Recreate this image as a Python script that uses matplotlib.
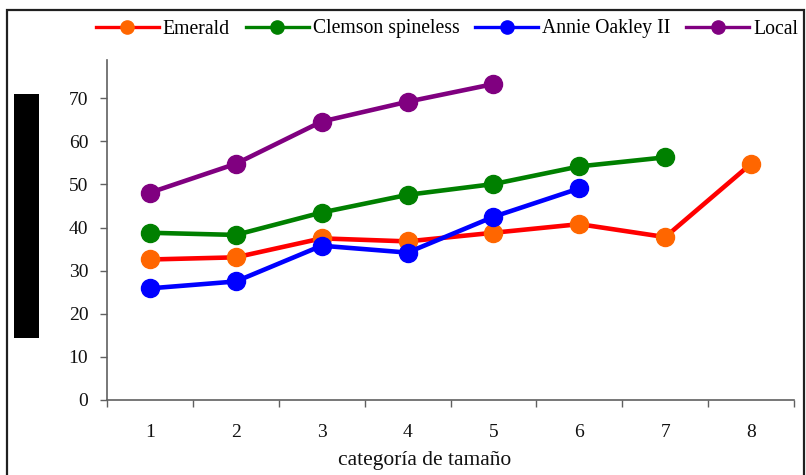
import matplotlib
matplotlib.use("Agg")
import matplotlib.pyplot as plt
from matplotlib.lines import Line2D
from matplotlib.patches import Rectangle

plt.rcParams['font.family'] = ['Liberation Serif', 'DejaVu Serif']

categories = [1, 2, 3, 4, 5, 6, 7, 8]
series_names = ["Emerald", "Clemson spineless", "Annie Oakley II", "Local"]
emerald = [32.6, 33.1, 37.5, 36.8, 38.8, 40.8, 37.8, 54.8]
clemson = [38.8, 38.3, 43.5, 47.6, 50.1, 54.2, 56.3]
annie = [25.9, 27.5, 35.8, 34.2, 42.5, 49.1]
local = [48.1, 54.8, 64.6, 69.2, 73.3]
yticks = [0, 10, 20, 30, 40, 50, 60, 70]
xlabel = "categoría de tamaño"

series = [emerald, clemson, annie, local]
line_colors = ["#FF0000", "#008000", "#0000FF", "#800080"]
marker_colors = ["#FF6600", "#008000", "#0000FF", "#800080"]

W, H = 806, 475
fig = plt.figure(figsize=(W / 100, H / 100), dpi=100)

# figure border
fig.patches.append(Rectangle((7 / W, -0.05), (804 - 7) / W, (475 - 10) / H + 0.05,
                             transform=fig.transFigure, fill=False,
                             edgecolor="#202020", linewidth=1.6, zorder=0))
# black block on the left
fig.patches.append(Rectangle((14 / W, 1 - 338 / H), 25 / W, (338 - 94) / H,
                             transform=fig.transFigure, facecolor="black",
                             edgecolor="none", zorder=1))

ax = fig.add_axes([107 / W, 1 - 400 / H, (794 - 107) / W, (400 - 59.5) / H])
ax.set_xlim(0.5, 8.5)
ax.set_ylim(0, 79)

for vals, lc, mc in zip(series, line_colors, marker_colors):
    xs = categories[:len(vals)]
    ax.plot(xs, vals, color=lc, linewidth=3.3, marker="o", markersize=13,
            markerfacecolor=mc, markeredgecolor=mc, solid_capstyle="round", zorder=3)

for s in ["top", "right"]:
    ax.spines[s].set_visible(False)
for s in ["left", "bottom"]:
    ax.spines[s].set_color("#606060")
    ax.spines[s].set_linewidth(1.2)

ax.set_yticks(yticks)
ax.set_yticklabels([str(v) for v in yticks])
ax.tick_params(axis="y", length=5, width=1.0, color="#606060", pad=8.5,
               labelsize=14, labelcolor="#111111")

ax.set_xticks(categories)
ax.set_xticklabels([str(c) for c in categories])
ax.set_xticks([c + 0.5 for c in [0] + categories], minor=True)
ax.tick_params(axis="x", which="major", length=0, pad=17, labelsize=14, labelcolor="#111111")
ax.tick_params(axis="x", which="minor", length=5, width=1.0, color="#606060")

fig.text(425 / W, 1 - 461 / H, xlabel, ha="center", va="center", fontsize=15.5, color="#111111")

handles = [Line2D([0], [0], color=lc, linewidth=2.4, marker="o", markersize=9.5,
                  markerfacecolor=mc, markeredgecolor=mc)
           for lc, mc in zip(line_colors, marker_colors)]
leg = fig.legend(handles, series_names, loc="center", bbox_to_anchor=(447 / W, 1 - 29 / H),
                 ncol=4, frameon=False, fontsize=14.2, handlelength=3.2,
                 handletextpad=0.2, columnspacing=0.8, borderpad=0, borderaxespad=0)

fig.savefig("out.png", dpi=100)
